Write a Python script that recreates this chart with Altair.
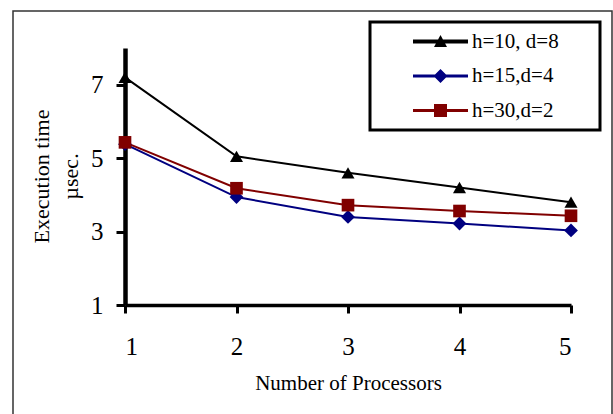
import altair as alt
import pandas as pd

# ---- data ----
processors = [1, 2, 3, 4, 5]
series_names = ["h=10, d=8", "h=15,d=4", "h=30,d=2"]
h10_d8 = [7.2, 5.05, 4.6, 4.2, 3.8]
h15_d4 = [5.38, 3.94, 3.4, 3.22, 3.03]
h30_d2 = [5.43, 4.18, 3.72, 3.56, 3.43]
y_ticks = [1, 3, 5, 7]

series_colors = ["#000000", "#000080", "#800000"]

rows = []
for name, vals in zip(series_names, [h10_d8, h15_d4, h30_d2]):
    for p, v in zip(processors, vals):
        rows.append({"processors": p, "time": v, "series": name})
df = pd.DataFrame(rows)

FONT = "Liberation Serif"

# ---- legend symbols: line + marker, as SVG paths ----
SYM = 21.0            # legend symbol size (sqrt of area), px
U = SYM / 2           # one path unit in px
def f(v):
    return f"{v / U:.4f}"

def legend_path(marker, half_thick):
    ext = f"M{f(-61.5)},0 M{f(149.5)},0 "
    line = f"M{f(-27.5)},{f(-half_thick)} H{f(27.5)} V{f(half_thick)} H{f(-27.5)} Z "
    if marker == "triangle":
        m = f"M0,{f(-6.5)} L{f(6.5)},{f(5.5)} L{f(-6.5)},{f(5.5)} Z"
    elif marker == "diamond":
        m = f"M0,{f(-7)} L{f(7)},0 L0,{f(7)} L{f(-7)},0 Z"
    else:
        m = f"M{f(-6.5)},{f(-6.5)} H{f(6.5)} V{f(6.5)} H{f(-6.5)} Z"
    return ext + line + m

legend_shapes = [
    legend_path("triangle", 2.0),
    legend_path("diamond", 1.5),
    legend_path("square", 1.5),
]

x_enc = alt.X(
    "processors:Q",
    scale=alt.Scale(domain=[1, 5], nice=False),
    axis=alt.Axis(
        values=processors, format="d", title="Number of Processors",
        domainWidth=3.5, tickWidth=3, tickSize=8, labelPadding=21,
        labelFontSize=25, titleFontSize=21, titleY=78, titleBaseline="middle",
    ),
)
y_enc = alt.Y(
    "time:Q",
    scale=alt.Scale(domain=[1, 8], nice=False),
    axis=alt.Axis(
        values=y_ticks, format="d", title=["Execution time", "µsec."],
        domainWidth=4.5, tickWidth=3, tickSize=9, labelPadding=13,
        labelFontSize=25, titleFontSize=22, titleLineHeight=29,
        titleAngle=270, titleBaseline="middle", titleAlign="center",
        titleX=-84, titleY=128,
    ),
)
color_scale = alt.Scale(domain=series_names, range=series_colors)

base = alt.Chart(df)

frame = base.mark_rect(fill=None, stroke="#333333", strokeWidth=1.5).encode(
    x=alt.value(-112), x2=alt.value(487), y=alt.value(-37), y2=alt.value(400)
).transform_filter("datum.processors == 1 && datum.series == 'h=10, d=8'")

lines = base.mark_line(strokeWidth=2).encode(
    x=x_enc, y=y_enc,
    color=alt.Color("series:N", scale=color_scale, legend=None),
    order=alt.Order("processors:Q"),
)

marker_shapes = ["triangle-up", "diamond", "square"]
marker_sizes = [170, 190, 160]
point_layers = []
for name, shp, sz in zip(series_names, marker_shapes, marker_sizes):
    point_layers.append(
        base.transform_filter(alt.datum.series == name)
        .mark_point(shape=shp, filled=True, size=sz, opacity=1)
        .encode(
            x=x_enc, y=y_enc,
            color=alt.Color("series:N", scale=color_scale, legend=None),
        )
    )

leg = dict(title=None, orient="none", legendX=245, legendY=-26)
legend_layer = base.mark_point(filled=True, opacity=0).encode(
    x=x_enc, y=y_enc,
    fill=alt.Fill("series:N",
                  scale=alt.Scale(domain=series_names, range=series_colors),
                  legend=alt.Legend(**leg)),
    shape=alt.Shape("series:N",
                    scale=alt.Scale(domain=series_names, range=legend_shapes),
                    legend=alt.Legend(**leg)),
)

chart = alt.layer(frame, legend_layer, lines, *point_layers).properties(
    width=446,
    height=257,
    autosize=alt.AutoSizeParams(type="none"),
    padding={"left": 125, "top": 48, "right": 42, "bottom": 109},
).configure_view(stroke=None).configure_axis(
    grid=False, domainColor="black", tickColor="black",
    labelColor="black", titleColor="black",
    labelFont=FONT, titleFont=FONT, titleFontWeight="normal",
).configure_legend(
    strokeColor="black", strokeWidth=3, fillColor="white",
    padding=9, symbolSize=SYM * SYM, symbolOffset=51, labelOffset=21,
    rowPadding=12.5, labelFont=FONT, labelFontSize=21, labelColor="black",
    symbolStrokeWidth=0, symbolOpacity=1, labelLimit=300,
)

chart.save("out.html", embed_options={"renderer": "svg", "actions": False})
